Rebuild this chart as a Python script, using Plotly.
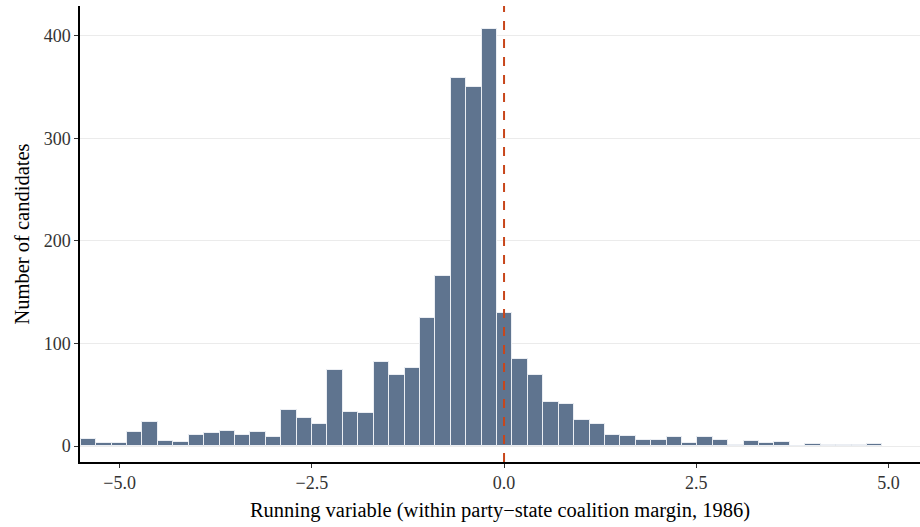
import numpy as np
import plotly.graph_objects as go

# Histogram counts (52 bins of equal width)
counts = [7, 3, 3, 14, 23, 5, 4, 11, 13, 15, 11, 14, 9, 35, 27, 21, 74, 33, 32,
          82, 69, 76, 125, 166, 359, 350, 407, 130, 85, 69, 43, 41, 25, 21, 11,
          10, 6, 6, 9, 3, 9, 6, 1, 5, 3, 4, 0, 2, 1, 1, 1, 2]
bin_start = -5.505
bin_width = 0.2005
bin_centers = bin_start + bin_width * (np.arange(len(counts)) + 0.5)

x_ticks = [-5.0, -2.5, 0.0, 2.5, 5.0]
y_ticks = [0, 100, 200, 300, 400]
cutoff = 0.0

fig = go.Figure()
fig.add_trace(go.Bar(
    x=bin_centers, y=counts, width=bin_width,
    marker=dict(color="#5f748f", line=dict(color="rgba(235,238,243,1)", width=1)),
    hoverinfo="x+y",
))

fig.add_shape(type="line", x0=cutoff, x1=cutoff, xref="x", y0=0, y1=1, yref="paper",
              line=dict(color="#c8461b", width=2, dash="9px,9px"), layer="above")

font_family = "Liberation Serif, Times New Roman, serif"
fig.update_layout(
    width=920, height=527,
    margin=dict(l=80, r=0, t=6, b=65),
    plot_bgcolor="white", paper_bgcolor="white",
    bargap=0, showlegend=False,
    font=dict(family=font_family, color="#000000"),
    xaxis=dict(
        range=[-5.515, 5.41], tickvals=x_ticks, tickformat=".1f",
        showgrid=False, zeroline=False,
        showline=True, linecolor="#000000", linewidth=1.5,
        ticks="outside", ticklen=4, tickcolor="#333333", tickwidth=1,
        tickfont=dict(size=18, color="#333333", family=font_family),
        title=dict(text="Running variable (within party\u2212state coalition margin, 1986)",
                   font=dict(size=20.5, color="#000000", family=font_family), standoff=10),
    ),
    yaxis=dict(
        range=[-15.6, 429], tickvals=y_ticks,
        showgrid=True, gridcolor="#ebebeb", gridwidth=1, zeroline=False,
        showline=True, linecolor="#000000", linewidth=1.5,
        ticks="outside", ticklen=4, tickcolor="#333333", tickwidth=1,
        tickfont=dict(size=18, color="#333333", family=font_family),
        title=dict(text="Number of candidates",
                   font=dict(size=20.5, color="#000000", family=font_family), standoff=8),
    ),
)

fig.write_html("out.html")
